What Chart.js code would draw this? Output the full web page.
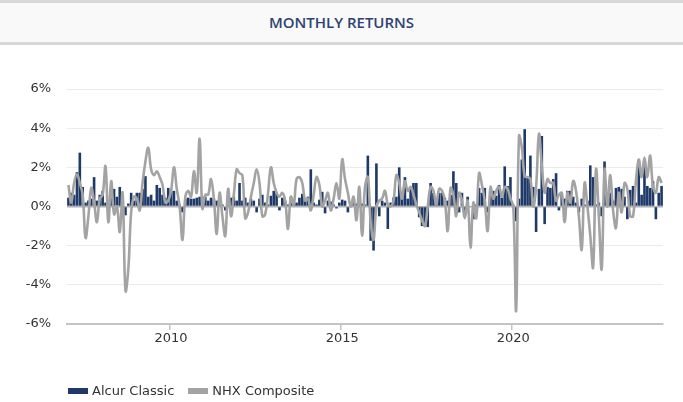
<!DOCTYPE html>
<html lang="en">
<head>
    <meta charset="UTF-8">
    <title>Monthly Returns</title>
    <script src="https://cdn.jsdelivr.net/npm/chart.js"></script>
    <style>
        html, body { margin: 0; padding: 0; background: #ffffff; }
        .wrap { position: relative; width: 683px; height: 402px; overflow: hidden; }
        .title {
            position: absolute; left: 0; top: 0; width: 683px; height: 39px;
            border-top: 3px solid #d8d8d8; border-bottom: 3px solid #d8d8d8;
            background: #f9f9f9; box-sizing: content-box;
            font: 600 15px "Open Sans", sans-serif; color: #2d4373;
            text-align: center; line-height: 39px;
        }
        .chart-box { position: absolute; left: 0; top: 0; width: 683px; height: 402px; }
        .legend {
            position: absolute; left: 68px; top: 383px;
            font: 13px "DejaVu Sans", sans-serif; color: #333333;
            display: flex; align-items: center;
        }
        .legend span.box { display: inline-block; width: 20px; height: 6px; margin-right: 4px; }
        .legend span.item { display: flex; align-items: center; margin-right: 14px; }
    </style>
</head>
<body>
<div class="wrap">
    <div class="chart-box"><canvas id="returnsChart"></canvas></div>
    <div class="title">MONTHLY RETURNS</div>
    <div class="legend" id="legend"></div>
</div>

<script>
    // series names and colours
    const seriesNames = ['Alcur Classic', 'NHX Composite'];
    const seriesColors = ['#1f3a68', '#a3a3a3'];

    // first month of the data and the years that get a label on the x axis
    const startYear = 2007;
    const tickYears = ['2010', '2015', '2020'];
    const yTicks = [-6, -4, -2, 0, 2, 4, 6];

    // monthly returns in %, one row per year (Jan..Dec)
    const alcurClassic = [
        0.45, 0.7, 0.6, 1.75, 2.75, 1.0, 0.2, 0.3, 0.4, 1.5, 0.3, 0.6,
        0.8, 0.2, 0.3, 0.4, 0.9, 0.5, 1.0, 0.5, -0.45, 0.15, 0.7, 0.3,
        0.7, 0.7, 0.9, 1.55, 0.5, 0.6, 0.3, 1.1, 0.95, 0.6, 0.45, 0.95,
        0.8, 0.8, 0.3, 0.1, -0.3, 0.4, 0.45, 0.4, 0.4, 0.45, 0.5, 0.5,
        0.5, 0.3, 0.45, 0.4, 0.3, 0.1, 0.1, -0.2, 0.3, 0.45, 0.5, 0.3,
        1.2, 0.3, 0.45, 0.2, 0.4, 0.3, -0.3, 0.4, 0.6, 0.2, 0.1, 0.55,
        0.8, 0.7, -0.2, 0.45, 0.3, 0.1, 0.5, 0.3, 0.2, 0.45, 0.65, 0.3,
        0.5, 1.9, 0.2, 0.1, 0.35, 0.75, -0.35, 0.3, 0.25, 0.1, -0.1, 0.2,
        0.35, 0.3, -0.3, 0.1, 0.2, 0.15, 0.1, 0.15, 0.1, 2.6, -1.75, -2.25,
        2.2, -0.5, 0.3, 0.2, -1.15, 0.2, 0.45, 0.5, 2.0, 0.6, 1.5, 0.4,
        1.0, 1.2, 1.2, -0.55, -1.0, -0.9, -1.05, 1.2, 0.7, 0.4, 0.7, 0.7,
        0.45, 0.3, 0.6, 1.8, 1.2, -0.3, 0.7, -0.5, 0.5, 0.0, -0.65, 0.1,
        0.95, 0.7, 0.95, -0.3, 0.8, 0.8, 0.55, 1.1, 0.45, 2.05, 1.05, 1.5,
        0.1, -0.75, 0.4, 2.4, 3.95, 1.5, 2.6, 1.0, -1.3, 0.9, 3.6, -0.9,
        1.0, 0.95, 1.4, 1.7, -0.2, 0.7, 0.4, 0.8, 0.8, 0.5, 0.2, -0.3,
        0.4, 0.1, 0.3, 2.1, 1.5, 0.1, 0.2, -0.5, 2.3, 0.5, 0.7, 0.3,
        0.95, 1.0, 0.9, 0.5, -0.65, 0.85, 1.05, 0.2, 2.4, 0.6, 2.4, 1.05,
        0.95, 1.3, -0.65, 0.7, 1.05
    ];
    const nhxComposite = [
        1.1, 0.2, 1.2, 1.65, 1.2, 0.6, -1.6, -0.5, 0.95, 0.2, -0.8, 0.4,
        0.6, 2.05, -0.8, 1.3, -0.4, 0.0, -1.3, 0.7, -4.3, -3.2, -0.3, 0.5,
        0.4, -0.2, 1.2, 2.3, 3.0, 1.9, 1.6, 1.8, 1.5, 1.1, 0.2, 0.3,
        0.8, 2.0, 0.9, 0.0, -1.7, 0.5, 0.8, 0.5, 1.8, 0.7, 3.45, -0.1,
        0.6, 0.6, 1.4, 0.4, -1.4, 0.7, -0.5, -1.5, 0.9, -0.5, 0.6, 1.9,
        1.7, 1.6, -0.6, -0.3, 0.5, 1.2, 1.9, 1.2, -0.5, -0.4, 0.7, 2.0,
        1.2, 0.7, 0.5, 0.7, 0.3, -1.15, 0.5, 0.1, 1.4, 1.5, 1.2, 0.3,
        0.4, -0.2, 0.6, 1.5, 1.1, 0.0, 0.3, 0.7, -0.2, 0.4, 1.2, 0.4,
        2.4, 1.4, 0.7, 0.0, 0.5, -0.7, 1.0, -1.5, 1.0, 1.5, -0.8, -1.7,
        0.0, 0.3, 0.4, 0.8, 0.1, 0.0, 0.3, 1.6, 1.2, 0.4, 1.3, 0.8,
        1.0, 0.6, 0.1, -0.3, -0.7, -1.0, 0.0, 1.0, 0.8, 0.1, 0.9, 0.8,
        0.3, -1.25, 0.95, 0.6, -0.5, 0.7, 0.3, -0.6, 0.3, -2.1, 0.2, -0.6,
        1.7, 1.1, 0.3, -1.25, 1.0, 0.4, 0.8, 1.0, 0.5, 1.0, 0.9, 0.4,
        0.0, -5.3, 3.6, 3.0, 1.55, 1.5, 1.4, 0.0, 1.0, 3.7, 2.1, 0.7,
        1.4, 1.2, 1.2, 0.3, 0.6, 0.7, -0.8, 0.7, 0.2, 1.3, 0.8, -0.5,
        -2.2, 1.2, 0.0, -1.5, -3.1, 1.9, -0.5, -3.2, 1.9, 0.0, 1.6, -0.2,
        -1.1, 0.7, -0.3, 1.2, 0.9, -0.5, -0.5, 1.3, 2.4, 1.5, 2.5, 1.5,
        2.6, 1.0, 0.7, 1.5, 1.2
    ];

    // month categories, "YYYY-MM"
    const months = alcurClassic.map((_, i) => {
        const y = startYear + Math.floor(i / 12);
        const m = String(i % 12 + 1).padStart(2, '0');
        return y + '-' + m;
    });

    const isYearTick = (lab) => lab.endsWith('-01') && tickYears.includes(lab.slice(0, 4));
    const fontFamily = '"DejaVu Sans", sans-serif';

    const ctx = document.getElementById('returnsChart').getContext('2d');
    const returnsChart = new Chart(ctx, {
        type: 'bar',
        data: {
            labels: months,
            datasets: [{
                label: seriesNames[0],
                data: alcurClassic,
                backgroundColor: seriesColors[0],
                borderWidth: 0,
                barPercentage: 0.92,
                categoryPercentage: 1.0,
                order: 1
            }, {
                type: 'line',
                label: seriesNames[1],
                data: nhxComposite,
                borderColor: seriesColors[1],
                borderWidth: 2.6,
                pointRadius: 0,
                tension: 0.4,
                fill: false,
                order: 0
            }]
        },
        options: {
            responsive: true,
            maintainAspectRatio: false,
            animation: false,
            layout: { padding: { top: 89, right: 20, bottom: 40, left: 0 } },
            plugins: {
                legend: { display: false },
                tooltip: { enabled: false }
            },
            scales: {
                x: {
                    offset: true,
                    grid: {
                        display: true,
                        drawOnChartArea: false,
                        drawTicks: true,
                        tickLength: 6,
                        lineWidth: 1.5,
                        color: (c) => (c.index !== undefined && isYearTick(months[c.index])) ? '#c4c4c4' : 'rgba(0,0,0,0)'
                    },
                    border: { display: true, color: '#c4c4c4', width: 2 },
                    ticks: {
                        autoSkip: false,
                        maxRotation: 0,
                        padding: 1,
                        color: '#333333',
                        font: { family: fontFamily, size: 13 },
                        callback: function (value) {
                            const lab = this.getLabelForValue(value);
                            return isYearTick(lab) ? lab.slice(0, 4) : '';
                        }
                    },
                    afterFit: (scale) => { scale.height = 38; }
                },
                y: {
                    min: yTicks[0],
                    max: yTicks[yTicks.length - 1],
                    afterBuildTicks: (scale) => { scale.ticks = yTicks.map(v => ({ value: v })); },
                    grid: {
                        drawTicks: false,
                        color: (c) => c.tick && c.tick.value === 0 ? '#b0b0b0' : '#ebebeb',
                        lineWidth: (c) => c.tick && c.tick.value === 0 ? 1.5 : 1
                    },
                    border: { display: false },
                    ticks: {
                        padding: 16,
                        color: '#333333',
                        font: { family: fontFamily, size: 13 },
                        callback: (v) => v + '%'
                    },
                    afterFit: (scale) => { scale.width = 67; }
                }
            }
        }
    });

    // legend as plain text below the chart
    const legendEl = document.getElementById('legend');
    seriesNames.forEach((name, i) => {
        const item = document.createElement('span');
        item.className = 'item';
        const box = document.createElement('span');
        box.className = 'box';
        box.style.background = seriesColors[i];
        item.appendChild(box);
        item.appendChild(document.createTextNode(name));
        legendEl.appendChild(item);
    });
</script>
</body>
</html>
